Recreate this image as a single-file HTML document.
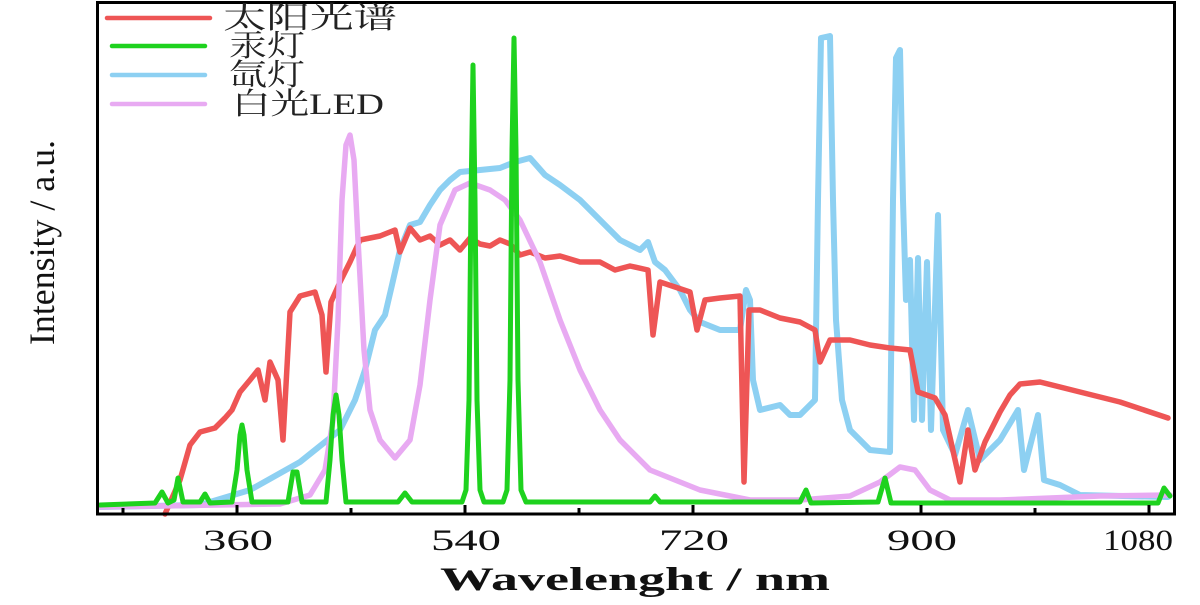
<!DOCTYPE html>
<html><head><meta charset="utf-8"><style>
body{margin:0;background:#fff;width:1200px;height:600px;overflow:hidden}
text{font-family:"Liberation Serif","Noto Serif CJK SC",serif}
</style></head><body>
<svg width="1200" height="600" viewBox="0 0 1200 600" xmlns="http://www.w3.org/2000/svg">
<rect x="0" y="0" width="1200" height="600" fill="#fff"/>
<g fill="none" stroke-linejoin="round" stroke-linecap="round">
<polyline stroke="#8dd0f2" stroke-width="6" points="100,507 200,505 250,490 300,462 340,430 355,400 365,370 375,330 385,315 392,285 400,250 410,225 420,222 430,205 440,190 450,180 460,172 480,170 500,168 515,162 530,158 545,175 560,185 580,200 600,220 620,240 640,250 648,242 655,262 665,270 680,290 690,310 700,322 720,330 740,330 746,290 750,300 753,380 760,410 780,405 790,415 800,415 815,400 818,200 821,38 830,36 833,200 836,320 842,400 850,430 870,450 890,452 893,200 896,58 900,50 903,200 906,300 910,260 914,420 918,258 922,420 927,262 931,430 938,215 943,430 955,455 968,410 980,460 1000,440 1018,410 1024,470 1038,415 1044,480 1060,485 1080,495 1168,497"/>
<polyline stroke="#ee5555" stroke-width="5.5" points="165,514 180,480 190,445 200,432 215,428 225,418 232,410 240,392 250,380 258,370 265,400 270,362 278,380 283,440 290,312 300,296 315,292 322,315 326,372 331,302 340,282 350,262 360,240 380,236 395,230 400,252 410,228 420,240 430,236 440,245 450,240 460,250 470,238 480,244 490,246 500,240 510,244 520,255 530,252 545,258 560,256 580,262 600,262 615,270 630,266 648,270 653,335 660,282 690,292 697,330 705,300 720,298 740,296 744,482 749,310 760,310 780,318 800,322 815,330 820,362 830,340 850,340 870,345 890,348 910,350 918,392 935,398 945,415 960,482 968,430 975,470 985,442 1000,412 1010,395 1020,384 1040,382 1080,392 1120,402 1168,418"/>
<polyline stroke="#e8aaf2" stroke-width="5.5" points="100,507 280,504 310,495 325,470 333,420 338,320 342,200 346,145 350,135 354,160 358,240 364,350 370,410 380,440 395,458 410,440 420,385 430,300 440,225 455,190 470,183 490,190 505,200 520,220 540,262 560,320 580,370 600,410 620,440 650,470 700,490 750,500 800,500 850,496 880,482 900,467 915,470 930,490 950,500 1000,500 1100,496 1170,495"/>
<polyline stroke="#1ed21e" stroke-width="5" points="100,505 155,503 162,492 168,503 174,500 178,478 183,502 200,502 205,494 210,503 232,502 237,470 240,435 242,425 244,435 247,470 252,502 288,502 293,472 297,472 302,502 326,502 330,460 333,415 336,395 339,415 342,460 346,502 398,502 405,493 412,502 462,502 466,490 469,400 471,200 473,65 475,200 477,400 480,490 484,502 503,502 507,490 510,380 512,150 514,38 516,150 518,380 521,490 526,502 650,502 655,496 660,502 800,502 806,490 811,503 878,502 885,478 891,503 1158,503 1164,488 1170,496"/>
</g>
<rect x="97.5" y="2.5" width="1077" height="511.5" fill="none" stroke="#000" stroke-width="3"/>
<g stroke="#000" stroke-width="3">
<line x1="123" y1="514" x2="123" y2="508"/><line x1="237" y1="514" x2="237" y2="505"/>
<line x1="351" y1="514" x2="351" y2="508"/><line x1="465" y1="514" x2="465" y2="505"/>
<line x1="579" y1="514" x2="579" y2="508"/><line x1="693" y1="514" x2="693" y2="505"/>
<line x1="807" y1="514" x2="807" y2="508"/><line x1="921" y1="514" x2="921" y2="505"/>
<line x1="1035" y1="514" x2="1035" y2="508"/><line x1="1149" y1="514" x2="1149" y2="505"/>
</g>
<g font-size="30" fill="#111" lengthAdjust="spacingAndGlyphs">
<text x="203" y="550" textLength="70" lengthAdjust="spacingAndGlyphs">360</text>
<text x="431" y="550" textLength="70" lengthAdjust="spacingAndGlyphs">540</text>
<text x="659" y="550" textLength="70" lengthAdjust="spacingAndGlyphs">720</text>
<text x="887" y="550" textLength="70" lengthAdjust="spacingAndGlyphs">900</text>
<text x="1103" y="550" textLength="70" lengthAdjust="spacingAndGlyphs">1080</text>
</g>
<text x="440" y="590" font-size="33" font-weight="bold" fill="#111" textLength="390" lengthAdjust="spacingAndGlyphs">Wavelenght / nm</text>
<text transform="translate(54,345) rotate(-90)" font-size="36" fill="#111" textLength="205" lengthAdjust="spacingAndGlyphs">Intensity / a.u.</text>
<g stroke-width="4.5" stroke-linecap="round">
<line x1="107" y1="18" x2="210" y2="18" stroke="#ee5555"/>
<line x1="112" y1="46" x2="205" y2="46" stroke="#1ed21e"/>
<line x1="112" y1="75" x2="205" y2="75" stroke="#8dd0f2"/>
<line x1="112" y1="104" x2="205" y2="104" stroke="#e8aaf2"/>
</g>
<g font-size="30" fill="#222">
<text x="223" y="28" textLength="174" lengthAdjust="spacingAndGlyphs">太阳光谱</text>
<text x="229" y="56" textLength="76" lengthAdjust="spacingAndGlyphs">汞灯</text>
<text x="229" y="85" textLength="76" lengthAdjust="spacingAndGlyphs">氙灯</text>
<text x="232" y="114" textLength="152" lengthAdjust="spacingAndGlyphs">白光LED</text>
</g>
</svg>
</body></html>
